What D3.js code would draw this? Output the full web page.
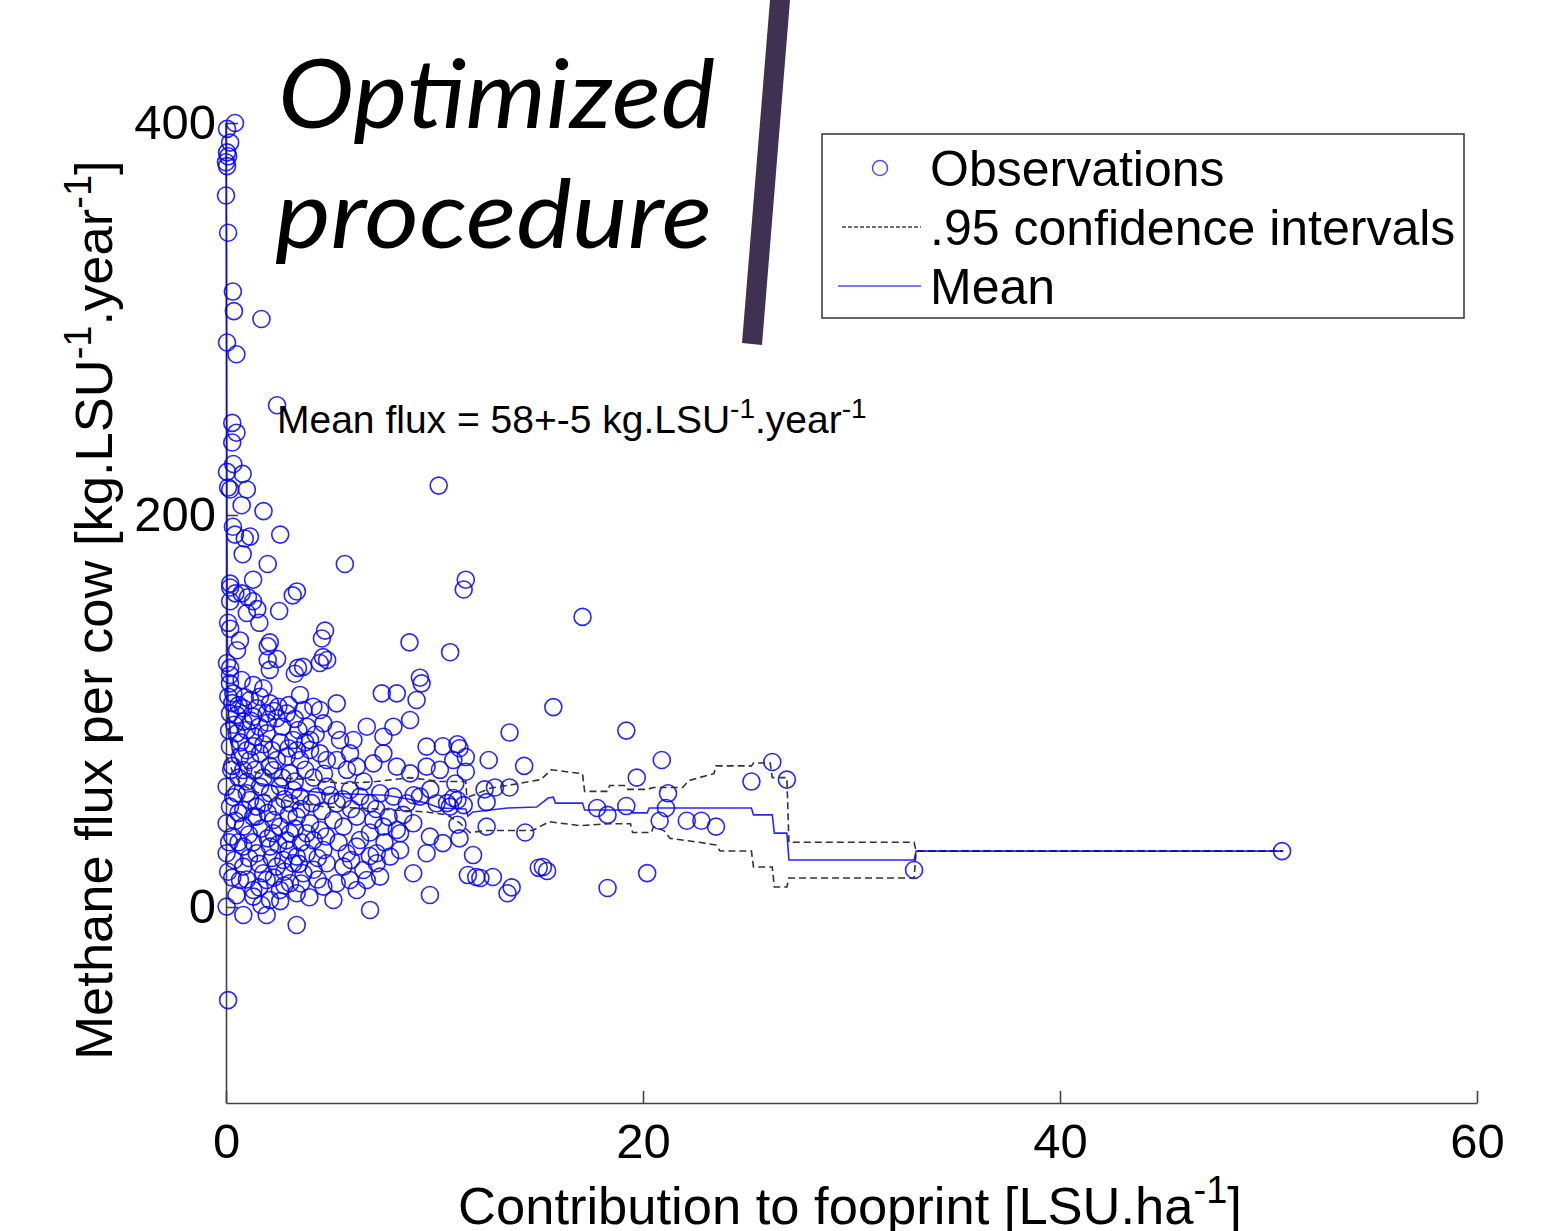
<!DOCTYPE html>
<html>
<head>
<meta charset="utf-8">
<script src="https://cdn.jsdelivr.net/npm/d3@7"></script>
<style>
  body { margin: 0; background: #fff; }
  svg { display: block; font-family: "Liberation Sans", Arial, sans-serif; }
</style>
</head>
<body>
<div id="chart"></div>
<script>
// observations [contribution LSU/ha, methane flux kg/LSU/yr]
const observations = [
  [0.43,400],[0.05,397],[0.2,390],[0.05,385],[0.1,383],[0.0,380],[0.05,378],[0.0,363],[0.1,344],
  [0.33,314],[0.38,304],[1.7,300],[0.05,288],[0.5,282],[2.45,256],
  [0.3,247],[0.5,242],[0.3,237],[0.35,226],[0.05,222],[0.8,221],[0.1,214],[0.2,213],[1.0,213],
  [0.75,205],[1.8,202],[10.2,215],[0.33,194],[0.43,190],[0.9,188],[1.15,189],[2.6,190],[0.8,180],
  [2.0,175],[5.7,175],[0.2,165],[0.2,163],[1.3,167],[0.75,160],[1.05,158],[1.3,156],[1.5,152],[1.6,145],
  [0.2,156],[0.45,160],[3.2,159],[3.4,161],[2.55,151],[1.0,150],[0.1,145],[0.2,142],[4.75,141],[4.6,137],
  [0.67,136],[0.53,131],[2.0,133],[2.1,135],[2.0,126],[2.45,126.5],[8.8,135],[10.75,130],
  [4.65,127.5],[4.85,126],[4.5,124.5],[3.45,122],[3.7,122.5],[3.3,119],[0.05,124.5],[0.2,122],[2.1,121],[9.3,117],
  [11.5,167],[11.4,162],[17.1,148],[15.7,102],[13.6,89],[19.2,90],[20.9,75],[14.3,72],[26.2,74],[26.9,65],
  [25.2,64],[19.7,66],[21.2,58],[21.1,50.5],[20.8,44],[22.1,44],[22.8,44],[23.5,41],[17.8,50.5],[18.3,47],
  [19.2,51.5],[14.35,38],[12.5,41],[12.5,53.5],[12.4,60],[12.9,61],[13.6,61],[11.5,69],[12.6,75],
  [10.4,82],[11.1,83],[11.2,81],[11.5,76.5],[11.0,63],[10.26,70],[10.6,53],[10.9,55.6],[11.1,54.6],[11.4,52],
  [11.1,42],[11.2,35],[10.4,32.6],[11.85,26.5],[11.6,16.3],[12.0,15.3],[12.2,14.8],[12.8,15.3],
  [13.5,7],[13.7,10],[15.0,20],[15.2,20.4],[15.4,18.4],[18.3,9.7],[20.2,17.3],[33.0,18.9],[50.65,28.5],
  [0.19,118.4],[0.19,114.1],[0.75,115.8],[1.31,113.3],[1.79,111.6],[0.11,107.3],[0.35,109.0],[1.15,105.6],
  [1.63,107.3],[2.11,103.9],[2.51,102.2],[3.55,108.2],[5.31,103.9],[7.47,109.0],[8.19,109.0],[9.14,105.6],
  [9.38,114.1],[0.83,101.4],[1.47,101.4],
  [0.19,98.8],[0.51,98.0],[0.83,94.6],[1.31,97.1],[1.95,98.8],[2.43,96.3],[2.91,98.8],[3.71,100.5],[4.19,102.2],
  [4.51,100.5],[3.47,90.3],[3.87,92.0],[4.67,93.7],[5.31,90.3],[6.75,92.0],[8.03,92.0],[8.83,95.4],[0.51,88.6],
  [0.99,90.3],[1.39,86.9],[1.95,88.6],[3.23,85.2],[4.03,85.2],[5.47,85.2],[6.11,85.2],[7.55,86.9],[9.62,81.8],
  [0.19,81.8],[0.67,76.7],[1.15,75.0],[1.63,78.4],[2.43,75.0],[2.91,76.7],[3.55,75.0],[4.03,80.1],[4.51,78.4],
  [4.83,75.0],[5.31,75.0],[5.95,78.4],[6.27,71.6],[7.07,73.3],[7.55,78.4],[8.19,71.6],[8.83,68.2],[9.62,71.6],
  [10.9,75.0],[0.83,69.9],[2.27,69.9],[3.07,68.2],
  [0.03,61.4],[0.51,58.0],[1.15,54.6],[1.63,61.4],[2.11,58.0],[2.59,61.4],[3.23,59.7],[3.55,56.3],[4.35,56.3],
  [4.83,61.4],[5.31,52.9],[5.95,59.7],[6.43,56.3],[6.91,52.9],[7.39,58.0],[8.03,56.3],[8.67,52.9],[9.3,56.3],
  [10.1,52.9],[10.74,51.2],[0.19,51.2],[0.83,49.5],[1.47,51.2],[2.43,51.2],[3.07,52.9],
  [0.03,42.7],[0.83,41.0],[1.47,46.1],[2.27,44.4],[2.59,41.0],[3.39,46.1],[4.03,42.7],[4.51,39.3],[5.15,44.4],
  [5.63,41.0],[6.27,46.1],[7.07,44.4],[7.55,41.0],[8.19,39.3],[8.98,42.7],[9.78,35.9],[2.27,37.6],[3.07,37.6],
  [3.87,37.6],[6.43,34.2],[8.35,37.6],
  [0.03,27.4],[0.83,30.8],[1.47,27.4],[2.11,30.8],[2.75,24.0],[3.39,25.7],[3.87,27.4],[4.67,29.1],[4.83,22.3],
  [5.79,27.4],[6.27,30.8],[7.23,27.4],[7.87,25.7],[8.35,29.1],[9.62,27.4],[0.83,20.6],[1.79,17.2],[2.43,20.6],
  [3.23,22.3],[3.71,17.2],[5.63,20.6],[6.59,18.9],[7.23,22.3],[8.98,17.2],
  [0.67,13.8],[1.31,8.7],[1.95,13.8],[2.59,8.7],[3.07,12.1],[3.39,7.0],[4.67,10.4],[5.31,12.1],[5.95,13.8],
  [6.27,8.7],[6.75,13.8],[7.39,15.5],[9.78,6.1],[1.31,5.3],[2.11,3.6],
  [0.03,0.2],[0.83,-4.1],[1.95,-4.1],[3.39,-9.2],[5.15,3.6],[6.91,-1.5],[0.1,-47.5],
  // overlapping circles in the dense cluster
  [0.3,104],[0.6,103],[0.9,107],[1.2,95],[1.6,92],[2.0,94],[2.3,100],[2.7,92],[3.0,103],[3.3,96],
  [0.4,93],[0.7,84],[1.0,80],[1.3,82],[1.8,83],[2.2,80],[2.6,84],[3.0,81],[3.4,80],[3.8,84],[4.3,88],
  [0.3,72],[0.6,66],[1.0,64],[1.4,70],[1.8,66],[2.1,72],[2.7,66],[3.3,64],[3.8,70],[4.2,66],[4.7,68],
  [0.35,56],[0.6,48],[1.0,58],[1.3,46],[1.8,53],[2.0,48],[2.8,55],[3.0,47],[3.6,50],[4.1,53],[4.6,49],
  [5.0,57],[5.6,55],[6.0,50],[0.3,36],[0.6,33],[1.1,37],[1.3,33],[1.7,40],[2.0,35],[2.5,32],[2.9,34],
  [3.3,40],[3.6,33],[4.2,34],[4.8,36],[5.4,33],[0.4,24],[1.1,25],[1.6,22],[2.2,25],[2.8,18],[3.0,29],
  [3.5,22],[4.2,19],[4.4,25],[0.3,15],[1.0,14],[1.6,10],[2.3,15],[2.8,11],[3.6,12],[4.0,5],[4.4,14],
  [0.5,6],[1.7,1],[2.6,3],[0.15,90],[0.25,70],[0.15,33],[0.1,18],[0.45,44],[5.8,70],[6.6,64],[7.2,50],
  [7.8,46],[8.5,47],[9.0,57],[9.8,60],[6.9,38],[7.6,33],[6.0,24],[6.9,26]
]

// running mean and .95 confidence bounds (step lines)
const meanLine = [
  [0,400],[0.02,330],[0.04,220],[0.06,140],[0.1,100],[0.3,80],[0.8,68],[1.6,63],[3.2,60],[4.8,58],
  [6.4,57.5],[7.7,57],[8.8,55],[9.6,53],[10.26,50.5],[11.5,50],[11.6,46.4],[11.85,48.5],[13.5,50.5],
  [14.9,51],[15.45,55.6],[15.7,56],[15.8,53],[17.1,53],[17.2,49.5],[19.4,49.5],[19.5,48],[20.2,48],
  [20.3,50.5],[25.2,50.5],[25.3,47],[26.2,47],[26.3,37.7],[26.9,37.7],[27.0,24],[33.0,24],[33.1,28.5],[50.7,28.5]
]
const upperCI = [
  [0.05,97],[0.2,85],[0.5,75],[1.0,70],[2.4,66],[4.0,65],[5.6,63],[7.2,64],[8.8,66],[10.3,64],[11.5,64],
  [11.55,56],[11.85,57],[12.7,60.7],[13.5,62],[15.1,65],[15.6,70],[17.1,68],[17.2,59],[18.3,59],[18.4,62],
  [19.1,62],[19.2,60],[20.2,60],[20.5,61],[21.9,61],[22.2,64.5],[22.7,66],[23.4,68],[23.5,72],[25.2,72],
  [25.3,73.5],[26.1,73.5],[26.2,66],[26.9,66],[27.0,33],[33.0,33],[33.1,28.5],[50.7,28.5]
]
const lowerCI = [
  [0.05,76.5],[0.35,68],[0.8,62],[1.6,58],[3.2,53.5],[4.8,51],[6.4,50.5],[8.0,49.5],[9.6,48.5],[10.6,47],
  [11.2,43],[11.7,38],[12.5,39],[14.7,39],[15.5,43.5],[17.0,41.5],[18.4,42.5],[19.4,42.5],[19.5,38],[20.4,38],
  [20.5,41],[21.0,39],[21.3,35],[22.7,33],[23.5,31.6],[23.7,28.6],[25.2,28.6],[25.3,20.4],[26.2,20.4],
  [26.3,10.2],[26.9,10.2],[27.0,14.8],[33.0,14.8],[33.1,28.5],[50.7,28.5]
]

const xTicks = [0, 20, 40, 60]
const yTicks = [0, 200, 400]
const legendItems = ['Observations', '.95 confidence intervals', 'Mean']

const width = 1555
const height = 1231
const blue = '#0000ff'

const svg = d3.select('#chart')
  .append('svg')
  .attr('width', width)
  .attr('height', height)
  .attr('viewBox', [0, 0, width, height])

const xScale = d3.scaleLinear().domain([0, 60]).range([226, 1477])
const yScale = d3.scaleLinear().domain([-100, 400]).range([1103, 123])

// decorative slide bar behind the chart
svg.append('path')
  .attr('d', 'M770,0 L790,0 L762,345 L742,343 Z')
  .attr('fill', '#3e3152')

svg.append('text')
  .attr('x', 278).attr('y', 128)
  .attr('font-family', 'Lato, "Open Sans", sans-serif')
  .attr('font-style', 'italic')
  .attr('font-size', 96)
  .attr('textLength', 437).attr('lengthAdjust', 'spacingAndGlyphs')
  .text('Optimized')
svg.append('text')
  .attr('x', 275).attr('y', 248)
  .attr('font-family', 'Lato, "Open Sans", sans-serif')
  .attr('font-style', 'italic')
  .attr('font-size', 96)
  .attr('textLength', 437).attr('lengthAdjust', 'spacingAndGlyphs')
  .text('procedure')

// axes
const xAxis = g => g
  .attr('transform', `translate(0,${yScale(-100)})`)
  .call(d3.axisBottom(xScale).tickValues(xTicks).tickSizeInner(-12).tickSizeOuter(0).tickPadding(20))
  .call(g => g.selectAll('text').attr('font-size', 49).attr('fill', '#000'))
  .call(g => g.selectAll('line, path').attr('stroke', '#444').attr('stroke-width', 1.6))

const yAxis = g => g
  .attr('transform', `translate(${xScale(0)},0)`)
  .call(d3.axisLeft(yScale).tickValues(yTicks).tickSizeInner(-12).tickSizeOuter(0).tickPadding(10))
  .call(g => g.selectAll('text').attr('font-size', 49).attr('fill', '#000'))
  .call(g => g.selectAll('line, path').attr('stroke', '#444').attr('stroke-width', 1.6))

svg.append('g').call(xAxis)
svg.append('g').call(yAxis)

// observations
svg.append('g')
  .selectAll('circle')
  .data(observations)
  .join('circle')
  .attr('cx', d => xScale(d[0]))
  .attr('cy', d => yScale(d[1]))
  .attr('r', 8.5)
  .attr('fill', 'none')
  .attr('stroke', blue)
  .attr('stroke-opacity', 0.85)
  .attr('stroke-width', 1.6)

const line = d3.line()
  .x(d => xScale(d[0]))
  .y(d => yScale(d[1]))

;[upperCI, lowerCI].forEach(ci => {
  svg.append('path')
    .datum(ci)
    .attr('fill', 'none')
    .attr('stroke', '#333')
    .attr('stroke-width', 1.6)
    .attr('stroke-dasharray', '7,4')
    .attr('d', line)
})

svg.append('path')
  .datum(meanLine)
  .attr('fill', 'none')
  .attr('stroke', blue)
  .attr('stroke-opacity', 0.85)
  .attr('stroke-width', 1.6)
  .attr('d', line)

// annotation
const note = svg.append('text')
  .attr('x', 277).attr('y', 433)
  .attr('font-size', 39)
note.append('tspan').text('Mean flux = 58+-5 kg.LSU')
note.append('tspan').attr('font-size', 28).attr('dy', -15).text('-1')
note.append('tspan').attr('dy', 15).text('.year')
note.append('tspan').attr('font-size', 28).attr('dy', -15).text('-1')

// axis titles
const yTitle = svg.append('text')
  .attr('transform', 'translate(112,610) rotate(-90)')
  .attr('text-anchor', 'middle')
  .attr('font-size', 52.5)
yTitle.append('tspan').text('Methane flux per cow [kg.LSU')
yTitle.append('tspan').attr('font-size', 38).attr('dy', -21).text('-1')
yTitle.append('tspan').attr('dy', 21).text('.year')
yTitle.append('tspan').attr('font-size', 38).attr('dy', -21).text('-1')
yTitle.append('tspan').attr('dy', 21).text(']')

const xTitle = svg.append('text')
  .attr('x', 850).attr('y', 1224)
  .attr('text-anchor', 'middle')
  .attr('font-size', 52.5)
xTitle.append('tspan').text('Contribution to fooprint [LSU.ha')
xTitle.append('tspan').attr('font-size', 38).attr('dy', -21).text('-1')
xTitle.append('tspan').attr('dy', 21).text(']')

// legend
const legend = svg.append('g')
legend.append('rect')
  .attr('x', 822).attr('y', 134)
  .attr('width', 642).attr('height', 184)
  .attr('fill', '#fff')
  .attr('stroke', '#333')
  .attr('stroke-width', 1.5)

const rowY = d3.scalePoint().domain(legendItems).range([168, 286])

legend.append('circle')
  .attr('cx', 880).attr('cy', rowY(legendItems[0]))
  .attr('r', 7.5)
  .attr('fill', 'none').attr('stroke', blue).attr('stroke-opacity', 0.7).attr('stroke-width', 1.5)
legend.append('line')
  .attr('x1', 842).attr('x2', 921)
  .attr('y1', rowY(legendItems[1])).attr('y2', rowY(legendItems[1]))
  .attr('stroke', '#444').attr('stroke-width', 1.3).attr('stroke-dasharray', '4,2')
legend.append('line')
  .attr('x1', 838).attr('x2', 921)
  .attr('y1', rowY(legendItems[2])).attr('y2', rowY(legendItems[2]))
  .attr('stroke', blue).attr('stroke-opacity', 0.7).attr('stroke-width', 1.5)

legend.selectAll('text.item')
  .data(legendItems)
  .join('text')
  .attr('class', 'item')
  .attr('x', 930)
  .attr('y', d => rowY(d) + 18)
  .attr('font-size', 50)
  .text(d => d)
</script>
</body>
</html>
